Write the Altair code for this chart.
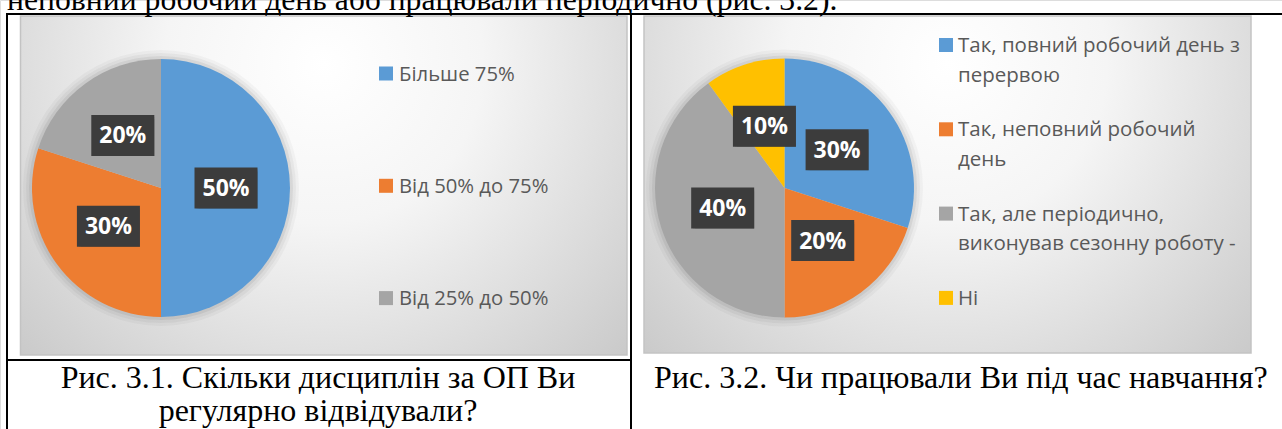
import altair as alt
import pandas as pd

# ---------------- data ----------------
cats1 = ["Більше 75%", "Від 50% до 75%", "Від 25% до 50%"]
vals1 = [50, 30, 20]
cols1 = ["#5B9BD5", "#ED7D31", "#A5A5A5"]

cats2 = [
    "Так, повний робочий день з\nперервою",
    "Так, неповний робочий\nдень",
    "Так, але періодично,\nвиконував сезонну роботу -",
    "Ні",
]
vals2 = [30, 20, 40, 10]
cols2 = ["#5B9BD5", "#ED7D31", "#A5A5A5", "#FFC000"]

top_text = ["неповний робочий день або працювали періодично (рис. 3.2)."]
caption1 = ["Рис. 3.1. Скільки дисциплін за ОП Ви\nрегулярно відвідували?"]
caption2 = ["Рис. 3.2. Чи працювали Ви під час навчання?"]

W, H = 1282, 429
one = pd.DataFrame({"a": [0]})

GRAD = {
    "gradient": "radial",
    "x1": 0.5, "y1": 0.3, "r1": 0,
    "x2": 0.5, "y2": 0.3, "r2": 0.75,
    "stops": [
        {"offset": 0, "color": "#ffffff"},
        {"offset": 0.35, "color": "#f5f5f5"},
        {"offset": 1, "color": "#c4c4c4"},
    ],
}


def area(x1, x2, y1, y2):
    return alt.Chart(one).mark_rect(fill=GRAD, stroke="#c3c3c3", strokeWidth=1.5).encode(
        x=alt.value(x1), x2=alt.value(x2), y=alt.value(y1), y2=alt.value(y2)
    )


def rule(x1, y1, x2, y2):
    return alt.Chart(one).mark_rule(color="black", strokeWidth=2, strokeCap="square").encode(
        x=alt.value(x1), x2=alt.value(x2), y=alt.value(y1), y2=alt.value(y2)
    )


def pie(cats, vals, cols, cx, cy, R, lr):
    df = pd.DataFrame({"cat": cats, "value": vals, "color": cols, "i": list(range(len(cats)))})
    base = alt.Chart(df)
    glow = [
        alt.Chart(one).mark_arc(theta=0, theta2=6.2832, radius=R + d, color="black", opacity=op).encode(
            x=alt.value(cx), y=alt.value(cy)
        )
        for d, op in [(9, 0.03), (6, 0.04), (3, 0.06)]
    ]
    arcs = base.mark_arc(radius=R).encode(
        theta=alt.Theta("value:Q", stack=True),
        order=alt.Order("i:Q"),
        color=alt.Color("color:N", scale=None),
        x=alt.value(cx),
        y=alt.value(cy),
    )
    lab = (
        base.transform_window(cum="sum(value)", sort=[alt.SortField("i")], frame=[None, 0])
        .transform_joinaggregate(total="sum(value)")
        .transform_calculate(ang="2*PI*(datum.cum - datum.value/2)/datum.total")
        .transform_calculate(lx=f"{cx} + {lr}*sin(datum.ang)")
        .transform_calculate(ly=f"{cy} - {lr}*cos(datum.ang)")
        .transform_calculate(bx1="datum.lx - 31.5", bx2="datum.lx + 31.5")
        .transform_calculate(by1="datum.ly - 20.5", by2="datum.ly + 20.5")
        .transform_calculate(lbl="format(datum.value/datum.total, '.0%')")
    )
    pos = dict(
        x=alt.X("bx1:Q", scale=None, axis=None),
        x2="bx2:Q",
        y=alt.Y("by1:Q", scale=None, axis=None),
        y2="by2:Q",
    )
    shadow1 = lab.mark_rect(color="black", opacity=0.18, xOffset=4, yOffset=4).encode(**pos)
    shadow2 = lab.mark_rect(color="black", opacity=0.2, xOffset=2, yOffset=2).encode(**pos)
    box = lab.mark_rect(color="#3c3c3c").encode(**pos)
    txt = lab.mark_text(
        font="Open Sans", fontWeight="bold", fontSize=23, color="white", align="center", baseline="middle", dy=1
    ).encode(
        x=alt.X("lx:Q", scale=None, axis=None),
        y=alt.Y("ly:Q", scale=None, axis=None),
        text="lbl:N",
    )
    return glow + [arcs, shadow1, shadow2, box, txt]


def legend(cats, cols, sx, tx, y0, step, lh, fs):
    df = pd.DataFrame({"cat": cats, "color": cols, "row": list(range(len(cats)))})
    base = alt.Chart(df).transform_calculate(yc=f"{y0} + datum.row*{step}")
    sq = base.mark_square(size=196, opacity=1, strokeWidth=0).encode(
        x=alt.value(sx),
        y=alt.Y("yc:Q", scale=None, axis=None),
        color=alt.Color("color:N", scale=None),
    )
    tt = base.mark_text(
        font="Open Sans", fontSize=fs, color="#595959", align="left", baseline="alphabetic",
        lineBreak="\n", lineHeight=lh, dy=7
    ).encode(
        x=alt.value(tx),
        y=alt.Y("yc:Q", scale=None, axis=None),
        text="cat:N",
    )
    return [sq, tt]


def text_layer(lines, x, y, align, fs):
    df = pd.DataFrame({"t": lines})
    return alt.Chart(df).mark_text(
        font="Liberation Serif", fontSize=fs, color="black", align=align, baseline="alphabetic",
        lineBreak="\n", lineHeight=33
    ).encode(x=alt.value(x), y=alt.value(y), text="t:N")


layers = []
layers.append(area(20.5, 627, 16, 355))
layers.append(area(644, 1251, 16, 353))
layers += pie(cats1, vals1, cols1, 161, 188, 129, 65)
layers += pie(cats2, vals2, cols2, 784.5, 188, 129.5, 65)
layers += legend(cats1, cols1, 386, 399, 73.5, 112.3, 29.5, 20.3)
layers += legend(cats2, cols2, 946, 958, 45, 84.3, 29.5, 20.5)
layers.append(rule(7, 14, 1282, 14))
layers.append(rule(7, 14, 7, 429))
layers.append(rule(631, 14, 631, 429))
layers.append(rule(7, 360, 631, 360))
layers.append(text_layer(top_text, 7, 10, "left", 31.7))
layers.append(text_layer(caption1, 318, 388, "center", 32))
layers.append(text_layer(caption2, 654, 388, "left", 32))

chart = (
    alt.layer(*layers)
    .properties(width=W, height=H, padding=0, autosize=alt.AutoSizeParams(type="none"))
    .configure_view(stroke=None)
    .configure(background="white")
)

chart.save("out.html", embed_options={"renderer": "svg", "actions": False})
